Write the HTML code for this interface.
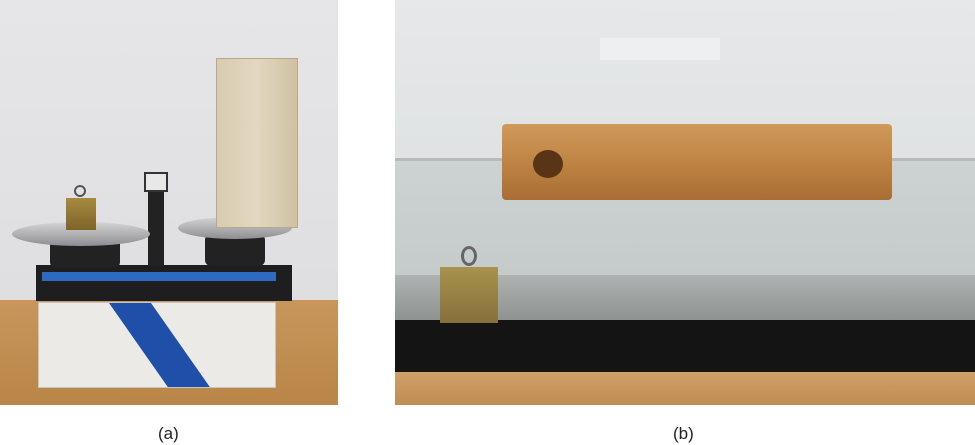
<!DOCTYPE html>
<html><head><meta charset="utf-8"><style>
body{margin:0;width:975px;height:445px;background:#fff;position:relative;overflow:hidden;font-family:"Liberation Sans",sans-serif}
div{position:absolute;box-sizing:border-box}
.lbl{font-size:17px;color:#222}
</style></head><body>
<div style="left:0;top:0;width:338px;height:405px;background:linear-gradient(#e6e6e8,#dcdcde);overflow:hidden">
  <div style="left:0;top:300px;width:338px;height:105px;background:linear-gradient(#c8965c,#b98548)"></div>
  <div style="left:38px;top:302px;width:238px;height:86px;background:#eceae6;border:1px solid #c9c6c0;overflow:hidden">
    <div style="left:70px;top:0;width:42px;height:86px;background:#1f4fa8;transform:skewX(35deg);transform-origin:top left"></div>
  </div>
  <div style="left:36px;top:265px;width:256px;height:36px;background:#1e1e20"></div>
  <div style="left:42px;top:272px;width:234px;height:9px;background:#2f6ac2"></div>
  <div style="left:148px;top:188px;width:16px;height:78px;background:#222"></div>
  <div style="left:144px;top:172px;width:24px;height:20px;background:#e8e8e8;border:2px solid #333"></div>
  <div style="left:50px;top:238px;width:70px;height:30px;background:#222;border-radius:6px"></div>
  <div style="left:205px;top:234px;width:60px;height:32px;background:#222;border-radius:6px"></div>
  <div style="left:12px;top:222px;width:138px;height:24px;background:linear-gradient(#d4d4d6,#8e8e92);border-radius:50%"></div>
  <div style="left:178px;top:217px;width:114px;height:22px;background:linear-gradient(#d4d4d6,#8e8e92);border-radius:50%"></div>
  <div style="left:216px;top:58px;width:82px;height:170px;background:linear-gradient(90deg,#d8ccb0,#e2d8c0,#cfc1a2);border:1px solid #b8a888"></div>
  <div style="left:66px;top:198px;width:30px;height:32px;background:linear-gradient(#a88a40,#7d6428)"></div>
  <div style="left:74px;top:185px;width:12px;height:12px;border:2px solid #555;border-radius:50%"></div>
</div>
<div style="left:395px;top:0;width:580px;height:405px;background:linear-gradient(#e6e8e9,#d6d9da);overflow:hidden">
  <div style="left:205px;top:38px;width:120px;height:22px;background:#eef0f0"></div>
  <div style="left:0;top:160px;width:580px;height:118px;background:linear-gradient(#cdd3d3,#c4cbca)"></div>
  <div style="left:0;top:158px;width:580px;height:3px;background:#b4bbbb"></div>
  <div style="left:0;top:275px;width:580px;height:48px;background:linear-gradient(#aeb3b2,#8c918f)"></div>
  <div style="left:0;top:320px;width:580px;height:54px;background:#141414"></div>
  <div style="left:0;top:372px;width:580px;height:33px;background:linear-gradient(#d0a06a,#bf8c52)"></div>
  <div style="left:107px;top:124px;width:390px;height:76px;background:linear-gradient(#cf9a5a,#bf8444,#a86e34);border-radius:4px"></div>
  <div style="left:138px;top:150px;width:30px;height:28px;background:#5a3416;border-radius:50%"></div>
  <div style="left:45px;top:267px;width:58px;height:56px;background:linear-gradient(#a8924e,#86703a)"></div>
  <div style="left:66px;top:246px;width:16px;height:20px;border:3px solid #666;border-radius:50%"></div>
</div>
<div class="lbl" style="left:158px;top:424px">(a)</div>
<div class="lbl" style="left:673px;top:424px">(b)</div>
</body></html>
